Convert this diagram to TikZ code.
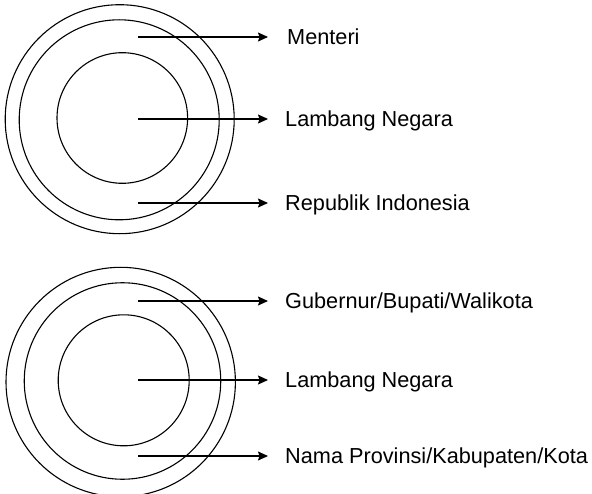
\documentclass[tikz,border=0pt]{standalone}
\usepackage{fontspec}
\setmainfont{Liberation Sans}
\usetikzlibrary{arrows.meta}
\begin{document}
\begin{tikzpicture}[x=1bp,y=-1bp,
  ring/.style={draw=black,line width=1.1bp,circle,inner sep=0pt},
  pointer/.style={line width=1.1bp,-{Stealth[length=10bp,width=9bp,inset=1.5bp]}},
  label/.style={anchor=west,inner ysep=0pt,inner xsep=17bp,text height=15.5bp,text depth=0pt,
    font=\fontsize{21.7bp}{26bp}\selectfont}]
\useasboundingbox (0,0) rectangle (592,494);
% top
\node[ring,minimum size=229bp] (o1) at (119.7,119.2) {};
\node[ring,minimum size=200bp] (m1) at (119.2,119.8) {};
\node[ring,minimum size=130.6bp] (i1) at (122.3,118) {};
\coordinate (s1) at (138,37);
\coordinate (s2) at (138,119);
\coordinate (s3) at (138,203);
\node[label,inner xsep=19bp] (t1) at (268,37) {Menteri};
\node[label] (t2) at (268,119) {Lambang Negara};
\node[label] (t3) at (268,203) {Republik Indonesia};
\draw[pointer] (s1) -- (t1.west);
\draw[pointer] (s2) -- (t2.west);
\draw[pointer] (s3) -- (t3.west);
% bottom
\node[ring,minimum size=229.4bp] (o2) at (120.7,382) {};
\node[ring,minimum size=196.5bp] (m2) at (122.5,381) {};
\node[ring,minimum size=131bp] (i2) at (123.7,380.3) {};
\coordinate (s4) at (138,301);
\coordinate (s5) at (138,380);
\coordinate (s6) at (138,456);
\node[label] (t4) at (268,301) {Gubernur/Bupati/Walikota};
\node[label] (t5) at (268,380) {Lambang Negara};
\node[label] (t6) at (268,456) {Nama Provinsi/Kabupaten/Kota};
\draw[pointer] (s4) -- (t4.west);
\draw[pointer] (s5) -- (t5.west);
\draw[pointer] (s6) -- (t6.west);
\end{tikzpicture}
\end{document}
